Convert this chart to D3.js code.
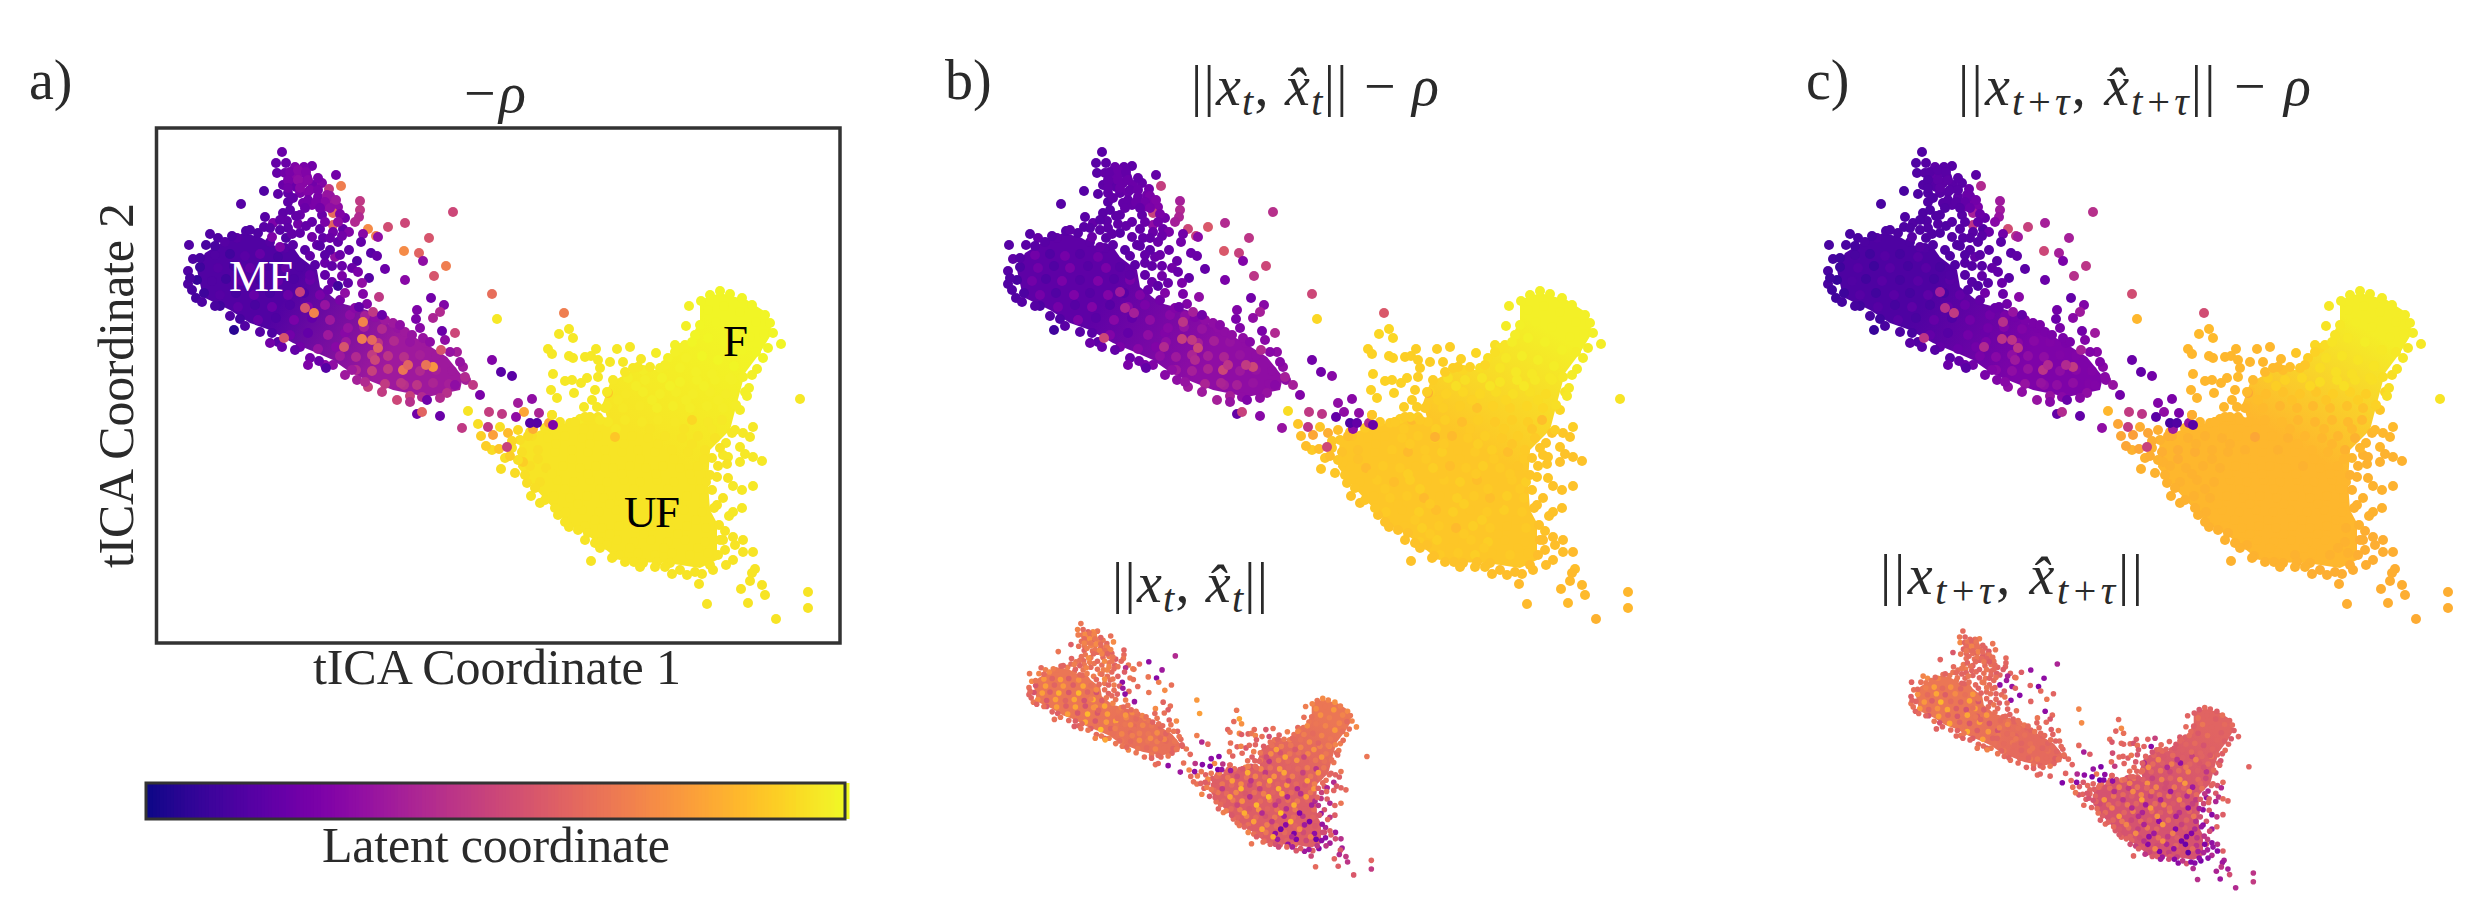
<!DOCTYPE html>
<html><head><meta charset="utf-8">
<style>html,body{margin:0;padding:0;background:#fff}svg{display:block}text{font-family:"Liberation Serif",serif;fill:#2a2a2a}</style>
<script src="https://cdn.jsdelivr.net/npm/d3@7/dist/d3.min.js"></script></head>
<body><svg id="c" width="2482" height="921"></svg>
<script>
// tuple: [tICA1, tICA2, latent a, latent b, latent c, latent small b, latent small c] (latent in percent)
const ufPoints=[
[468,248,97,94,90,64,60],[485,250,97,94,91,68,56],[502,248,98,95,92,66,62],[520,252,98,95,93,70,58],[537,250,98,96,94,62,48],[555,250,98,96,94,68,60],[572,250,98,96,94,70,64],
[450,262,96,91,86,60,36],[466,264,96,91,86,72,62],[483,262,97,92,87,55,58],[500,264,97,92,88,66,68],[516,262,97,93,88,64,30],[533,264,97,94,90,70,60],[550,262,97,94,91,62,56],[566,264,97,93,90,66,62],
[447,276,96,89,85,66,64],[463,278,96,90,85,44,60],[480,276,96,90,84,68,66],[497,278,97,87,85,62,50],[513,276,97,91,85,74,62],[530,278,97,91,86,60,70],[547,276,97,92,87,66,58],[563,278,97,92,87,64,44],
[415,292,95,90,85,62,60],[432,290,95,85,84,58,66],[448,292,96,89,84,70,58],[465,290,96,90,84,64,48],[482,292,96,86,85,76,68],[498,290,96,90,84,60,60],[515,292,96,89,84,62,72],[532,290,92,90,85,68,56],[548,292,96,90,85,44,62],[562,290,96,86,85,66,50],
[372,306,94,87,82,60,56],[388,308,95,88,83,66,62],[405,306,95,88,83,52,68],[422,308,95,89,83,64,46],[438,306,95,89,84,70,64],[455,308,95,90,84,60,60],[472,306,95,85,84,74,70],[488,308,95,89,83,62,52],[505,306,95,90,84,68,66],[522,308,95,89,84,58,60],[538,306,95,90,84,66,34],[555,308,95,89,83,62,64],
[362,322,94,87,82,58,60],[378,320,94,87,82,66,54],[395,322,95,88,82,62,66],[412,320,95,89,83,72,62],[428,322,95,85,83,50,58],[445,320,95,89,83,68,70],[462,322,95,90,84,64,48],[478,320,95,88,83,60,62],[495,322,95,89,84,76,66],[512,320,95,90,84,62,58],[528,322,95,86,84,56,40],[545,320,95,89,83,68,62],
[370,336,94,88,83,66,52],[386,338,94,85,83,62,64],[403,336,95,89,83,70,58],[420,338,95,89,83,56,66],[436,336,95,88,84,64,60],[453,338,95,90,84,68,34],[470,336,95,86,84,60,62],[486,338,95,89,84,80,70],[503,336,95,90,83,62,56],[520,338,95,89,84,42,60],[538,336,95,88,84,66,48],
[380,352,94,88,83,60,62],[397,350,95,89,83,66,54],[414,352,95,86,83,74,60],[430,350,95,90,84,58,68],[447,352,95,88,84,62,38],[464,350,95,89,84,68,62],[480,352,95,90,84,50,58],[497,350,95,86,84,64,66],[514,352,95,88,84,66,44],[532,350,95,89,84,60,60],[546,352,95,90,84,40,56],
[394,366,95,88,83,62,60],[410,368,95,89,83,68,66],[427,366,95,89,84,56,50],[444,368,95,85,84,74,62],[460,366,95,88,84,60,58],[477,368,95,90,84,64,30],[494,366,95,89,84,42,64],[510,368,95,86,84,66,56],[527,366,95,90,84,58,60],[544,368,95,89,84,62,42],
[406,382,95,89,83,60,56],[422,380,95,88,84,70,62],[439,382,95,90,84,62,48],[456,380,95,86,84,54,66],[473,382,95,90,84,66,60],[490,380,95,88,84,36,54],[507,382,95,89,84,62,28],[524,380,95,90,84,44,58],[542,382,95,89,84,60,40],
[425,396,95,88,84,64,60],[442,398,95,90,84,58,52],[459,396,95,89,84,68,30],[476,398,95,85,84,62,64],[493,396,95,90,84,28,46],[510,398,95,89,84,60,58],[527,396,95,88,84,34,24],[546,398,95,89,83,56,44],
[440,412,95,89,84,60,56],[457,410,95,90,84,66,28],[474,412,95,88,84,30,52],[491,410,95,89,84,62,40],[508,412,95,90,84,24,60],[525,410,95,88,84,52,20],[545,412,95,88,83,30,44],
[460,425,95,89,84,58,50],[478,423,95,89,84,34,26],[495,425,95,90,83,60,48],[512,423,95,88,84,26,56],[530,425,95,89,83,50,18],[548,423,95,88,83,22,36]];
const ufSpeckPoints=[
[476,256,97,94,90,78,70],[510,256,98,95,92,56,44],[544,256,98,96,94,74,68],[458,270,96,90,86,52,72],[492,270,97,91,87,80,40],[526,270,97,92,88,50,66],[558,270,97,93,90,76,54],
[424,299,95,89,84,82,70],[456,299,96,90,84,46,74],[490,299,95,89,84,80,52],[524,299,95,90,85,48,76],[552,299,96,88,85,78,60],
[396,314,95,88,83,78,42],[430,314,95,89,83,44,72],[464,314,95,89,84,84,66],[498,314,95,90,84,50,34],[532,314,95,88,84,80,70],
[378,329,94,87,82,46,74],[412,329,95,88,83,84,44],[446,329,95,89,84,48,78],[480,329,95,88,84,82,38],[514,329,95,89,84,40,72],[544,329,95,89,84,76,46],
[392,344,95,88,83,80,70],[428,344,95,90,84,42,40],[462,344,95,88,84,86,76],[496,344,95,89,84,38,62],[530,344,95,89,84,78,30],
[405,359,95,89,83,50,76],[440,359,95,90,84,84,42],[474,359,95,88,84,44,74],[508,359,95,89,84,82,36],[540,359,95,89,84,36,66],
[418,374,95,88,84,82,70],[450,374,95,89,84,40,38],[484,374,95,90,84,86,76],[518,374,95,88,84,26,48],
[435,390,95,89,84,78,72],[468,390,95,88,84,46,34],[502,390,95,90,84,84,68],[536,390,95,88,84,24,26],
[450,404,95,89,84,80,42],[484,404,95,89,84,22,72],[518,404,95,88,84,72,22],[470,418,95,88,84,82,70],[504,418,95,89,84,40,30],[538,418,95,88,83,68,62]];
const ufEdgePoints=[
[436,219,96,90,84,62,58],[425,227,96,90,84,60,62],[431,226,96,90,84,66,54],[457,219,96,90,84,56,60],[470,217,96,90,84,64,48],[496,223,97,92,88,68,60],[515,215,98,94,92,62,56],[481,229,96,91,85,60,62],[438,230,96,90,84,70,64],[440,238,96,90,84,58,56],[450,232,96,90,84,64,60],[463,232,96,90,84,52,28],[473,238,96,90,85,66,60],[438,247,96,90,85,60,54],[483,240,97,92,86,62,62],[500,238,97,93,88,68,58],[508,228,98,94,90,64,56],[520,218,98,95,92,66,60],
[409,199,96,92,85,80,72],[399,204,96,92,85,62,60],[413,208,96,92,85,74,64],[388,219,96,91,84,60,64],[392,224,96,91,84,66,56],[409,226,96,91,84,72,62],[413,228,96,91,84,58,60],[393,244,96,91,84,64,52],[405,251,96,91,84,60,62],[412,250,96,91,84,70,60],[421,253,96,91,84,56,58],[427,248,96,91,84,62,66],[391,260,96,91,84,66,62],[397,268,96,91,84,60,46],[414,263,96,91,84,62,60],[435,260,96,90,84,68,56],[432,270,96,90,84,58,62],[424,277,96,90,84,64,64],[437,277,96,90,84,60,60],[420,289,96,90,84,70,52],[430,287,95,90,84,56,60],[438,287,95,90,84,64,62],[410,293,95,89,84,58,66],[392,285,95,92,86,66,60],[448,263,88,82,80,60,54],[455,307,88,83,80,62,60],
[593,297,96,90,85,66,62],[583,303,96,88,84,60,54],[590,307,96,88,84,58,40],[572,303,96,88,84,62,60],[566,313,96,88,84,64,38],[580,317,96,88,84,40,56],[585,324,96,87,83,56,44],[593,327,96,87,83,60,62],[602,331,96,87,83,62,60],[563,325,96,88,83,58,30],[568,327,96,88,83,38,58],[580,332,96,87,83,60,38],[558,336,95,88,83,48,50],[567,334,95,88,83,62,60],[557,347,95,88,83,44,30],[568,348,95,88,83,58,56],[573,356,96,87,83,40,28],[582,360,96,87,83,60,44],[593,356,96,87,83,66,58],[563,368,95,87,83,54,54],[557,375,95,87,83,34,30],[582,378,96,87,83,58,60],[573,382,96,87,83,44,34],[569,386,96,87,83,60,52],
[565,401,95,87,82,38,46],[573,407,95,86,82,58,30],[583,410,95,86,82,34,42],[563,410,95,86,82,52,56],[565,420,95,86,82,30,36],[575,415,95,86,82,60,32],[593,422,95,85,82,42,58],[583,422,95,86,82,52,28],[573,430,95,86,82,36,40],[566,435,95,86,82,44,30],[595,439,95,86,82,36,38],[592,443,95,85,82,56,34],[590,451,95,85,82,40,44],[602,455,95,85,82,46,36],[581,459,95,85,82,60,38],[605,465,95,85,82,44,52],[588,473,95,85,82,58,34],[648,462,95,84,82,60,44],[648,478,95,84,82,46,46],[616,489,95,83,81,56,40],[547,474,95,85,82,62,42],[539,454,95,85,82,50,40],[553,440,95,86,82,28,24],[542,444,95,86,82,58,28],[527,445,95,86,82,34,54],[512,444,95,86,82,56,30],[510,433,95,87,83,62,48],[497,432,95,87,83,32,56],[483,433,95,87,83,60,34],[474,432,95,87,83,54,58],[454,426,95,87,83,62,52],[431,431,95,87,83,66,60],[447,415,95,87,83,60,56],[435,413,95,87,83,64,48],[428,403,95,87,83,58,60],
[409,397,95,87,83,66,60],[398,385,95,87,83,62,56],[380,373,95,87,83,68,62],[371,366,95,87,83,60,58],[367,353,94,88,83,64,64],[355,343,93,88,83,56,60],[341,339,94,88,83,70,62],[345,328,94,88,83,60,58],[332,320,93,89,83,66,54],[363,332,90,88,83,62,60],[640,269,96,95,95,66,60],
[352,318,94,88,83,60,60],[358,330,94,88,83,66,54],[365,345,94,88,83,58,62],[375,358,94,88,83,62,58],[385,370,95,88,83,68,60],[395,378,95,88,83,56,62],[405,392,95,87,83,64,56],[418,400,95,87,83,60,60],[425,410,95,87,83,70,52],[440,418,95,87,83,58,58],[452,428,95,87,83,64,44],[465,432,95,87,83,60,56],[480,437,95,87,83,50,34],[495,437,95,87,83,62,52],[505,437,95,87,83,36,28],[520,440,95,86,82,58,44],[535,442,95,86,82,34,26],[550,435,95,86,82,44,30],[558,425,95,86,82,30,38],[560,410,95,86,82,52,26],[559,395,95,87,83,32,44],[554,378,95,87,83,56,32],[552,360,95,88,83,42,52],[550,345,95,88,83,60,36],[552,328,95,88,84,58,58],[560,318,95,88,84,62,44],[575,300,96,90,85,60,60],[580,280,97,92,88,66,54],[585,262,98,95,92,62,60],[592,245,98,97,94,68,58],[603,228,99,97,96,70,60],[535,205,99,97,95,66,62],[525,215,98,95,93,64,58],[515,222,98,94,91,70,60],[505,235,97,92,88,62,56],[490,237,96,91,86,66,60],[478,237,96,90,85,60,62],[465,242,96,90,85,64,54],[453,250,96,90,85,58,60],[447,262,96,90,85,66,58],[445,278,96,89,84,60,62],[440,290,96,89,84,62,56],[425,287,95,89,84,68,60],[415,292,95,89,84,56,62],[400,292,95,89,84,64,54],[385,298,95,89,84,60,60],[370,302,94,88,83,66,62],[360,310,94,88,83,58,58]];
const fPoints=[
[529,176,98,97,96,68,60],[526,196,98,97,95,64,62],[541,171,99,98,97,70,58],[560,161,99,98,97,72,62],[550,165,99,98,97,66,56],[570,164,99,98,97,70,60],[582,168,99,98,97,74,58],[592,175,99,98,97,68,64],[605,185,99,98,97,72,60],[610,193,99,98,97,66,62],[613,203,99,98,97,70,58],[608,218,99,97,96,64,56],[621,214,99,97,96,72,60],[597,239,98,97,95,64,62],[583,247,98,96,94,70,60],[589,258,98,96,94,66,54],[587,266,98,96,94,62,60],[576,275,97,94,91,64,62],
[548,180,99,98,97,72,64],[564,176,99,98,97,66,60],[580,182,99,98,97,76,58],[596,192,99,98,97,70,62],[540,195,99,98,96,64,58],[556,192,99,98,97,74,66],[572,197,99,98,97,68,60],[590,207,99,98,97,70,58],[604,204,99,98,97,62,60],[532,212,99,97,95,72,62],[548,208,99,98,96,66,56],[565,212,99,98,97,70,64],[582,220,99,98,96,76,60],[596,222,99,97,96,64,58],[526,228,98,96,94,68,60],[542,226,99,97,95,62,62],[558,230,99,97,95,70,54],[574,236,99,97,95,66,60],[520,238,98,95,93,64,58],[536,242,98,96,94,72,62],[552,244,98,96,94,60,60],[570,248,98,96,94,68,56]];
const bridgePoints=[
[308,281,95,93,84,64,60],[318,294,94,88,80,70,62],[321,306,90,86,80,62,64],[333,305,78,80,78,68,58],[348,303,85,82,80,60,62],[340,297,94,88,82,66,56],[352,311,92,88,82,72,60],[326,316,90,86,80,64,66],[339,319,88,86,80,60,60],[350,326,90,86,82,68,54],[358,300,92,86,82,66,60],[368,306,93,86,82,62,62],[347,317,48,50,48,58,56],[328,297,45,44,46,30,28],[329,282,47,45,46,44,40],[342,284,45,44,44,28,30],[364,282,80,30,30,72,66],[373,299,82,30,34,70,64],[389,293,80,40,32,64,60],[392,285,95,88,82,62,60],[356,287,30,18,16,26,24],[358,273,35,30,26,30,32],[372,269,30,28,24,28,26],[379,283,38,30,24,44,30],[370,293,15,14,12,24,20],[377,293,15,18,14,32,26],[393,295,25,20,16,34,30]];
const lobePoints=[
[122,22,20,16,14,66,62],[116,33,19,16,14,70,66],[126,33,20,17,15,62,60],[152,36,22,17,15,66,68],[144,37,24,18,16,72,64],[135,37,26,20,17,60,62],[117,43,19,16,14,68,72],[125,43,22,18,15,66,60],[133,47,28,20,18,70,66],[140,43,28,20,17,62,64],[147,47,26,19,16,74,62],[176,45,22,18,16,64,66],[181,56,68,47,40,72,66],[123,55,20,17,14,64,60],[132,53,24,18,16,70,68],[136,57,20,17,15,66,62],[143,53,28,20,17,60,64],[153,55,22,20,16,68,62],[162,53,26,19,16,66,60],[169,59,45,22,20,62,58],[104,61,14,15,12,58,56],[118,64,17,16,13,64,66],[128,63,18,18,14,66,62],[140,63,24,18,16,70,64],[148,62,26,20,16,68,60],[158,67,24,20,17,62,58],[167,65,32,22,20,66,62],[128,72,17,16,14,60,64],[133,68,18,18,14,68,62],[81,74,15,15,12,66,60],[143,73,22,18,15,64,64],[152,75,24,19,16,62,60],[163,77,30,24,22,58,56],[173,72,33,24,22,66,62],[178,77,30,26,24,60,64],[200,71,45,36,34,60,62],[200,80,45,40,34,62,60],[199,87,40,38,32,66,60],[293,82,50,42,42,40,38],[123,83,17,16,13,64,66],[140,85,20,17,14,66,60],[162,85,20,18,16,62,62],[173,83,62,48,36,68,64],[185,88,22,22,18,58,60],[195,92,40,36,28,62,58],[105,87,15,16,13,60,62],[113,93,25,18,14,66,64],[127,91,18,17,14,62,68],[138,94,22,18,15,68,60],[173,95,60,30,44,66,62],[245,93,50,40,36,30,32],[228,97,52,56,48,62,58],[208,99,72,50,52,66,60],[104,97,16,16,13,62,66],[128,98,17,17,14,66,60],[160,99,18,18,15,64,64],[173,102,22,20,16,70,62],[183,99,18,20,14,60,58],[189,102,26,24,20,66,60],[203,104,28,22,22,42,38],[216,106,68,48,42,70,62],[218,107,30,28,34,66,66],[269,108,55,44,36,34,30],[140,103,18,16,14,62,60],[112,107,25,20,16,60,66],[126,108,14,16,13,66,62],[152,107,22,18,15,64,60],[163,108,18,18,15,68,66],[178,112,18,20,15,62,62],[201,112,18,22,16,58,34],[244,121,72,56,50,66,60],[259,123,60,48,36,28,26],[211,123,16,20,16,66,32],[217,126,18,20,17,64,60],[175,127,30,20,18,62,64],[197,131,15,20,16,30,58],[263,131,30,26,24,68,62],[286,136,68,50,44,64,60],[192,138,20,22,18,60,62],[198,142,24,20,18,34,66],[225,139,20,18,16,62,28],[165,133,20,18,15,66,62],[155,135,16,17,14,62,60],[157,115,18,17,14,70,66],[170,120,16,17,15,64,62],[189,120,18,20,16,60,30],[133,115,16,17,14,68,64],[120,117,25,18,15,62,60],
[130,42,24,18,15,72,66],[138,40,28,20,16,64,60],[146,42,26,18,16,70,66],[128,50,24,18,14,62,62],[138,50,30,20,17,74,70],[148,50,28,20,17,66,64],[158,48,24,18,16,60,60],[128,58,22,18,14,70,66],[140,58,28,20,17,66,62],[150,60,26,19,16,72,70],[158,60,24,20,16,62,62],[170,66,32,24,20,68,66],[165,72,28,22,18,64,60],[176,70,34,26,22,70,64],[148,70,22,18,15,66,66],[156,72,24,20,16,72,62],[170,78,30,24,20,60,58],[180,84,26,24,20,66,62],[160,78,22,18,15,70,66],[145,78,20,18,14,62,62],[130,80,17,16,13,66,60],[136,86,18,17,14,72,64],[120,90,18,16,13,64,66],[110,98,16,16,13,68,62],[120,100,16,17,14,60,60],[132,104,18,17,14,70,66],[146,96,18,18,14,66,62],[152,92,18,18,15,62,60],[165,92,24,20,16,72,66],[178,92,30,22,18,66,62],[182,106,22,20,16,62,64],[170,108,20,18,15,70,60],[160,116,16,17,14,64,66],[145,120,16,16,14,68,62],[150,126,18,17,14,62,60],[165,125,16,18,14,72,66],[180,125,20,20,16,66,62],[172,136,18,18,15,60,64],[182,136,20,20,16,68,60],[150,145,18,17,14,72,66],[165,145,18,18,15,64,62],[172,152,20,20,15,60,60],[180,170,24,22,18,70,64],[168,160,20,20,15,66,62]];
const scatterPoints=[
[274,146,55,44,42,72,66],[209,148,15,18,16,62,30],[245,150,28,24,20,66,60],[182,146,24,22,18,64,62],[188,153,18,20,16,60,58],[202,153,30,24,20,30,62],[178,156,10,17,14,62,66],[203,164,26,24,20,68,60],[185,163,30,26,22,66,62],[219,167,45,30,28,32,64],[271,168,22,22,18,60,30],[284,175,26,28,26,64,62],[257,180,25,26,22,72,66],[207,174,26,26,22,66,60],[199,177,18,22,20,62,62],[280,182,40,36,34,58,56],[273,188,38,30,28,64,62],[213,182,45,36,32,62,60],[222,185,20,22,18,66,64],[256,189,24,24,20,62,60],[260,198,28,26,24,66,62],[282,201,20,24,22,60,58],[295,203,50,40,34,72,66],[332,164,63,50,52,76,70],[404,183,68,56,52,66,62],[337,189,96,92,84,78,72],[332,230,26,22,20,68,62],[341,242,16,22,18,40,36],[352,246,16,28,22,62,58],[74,200,5,10,8,64,60],[110,213,22,20,16,58,62],[122,217,20,20,16,64,60],[124,208,55,50,44,62,66],[148,235,25,24,20,70,66],[159,231,20,22,18,66,62],[166,238,15,18,16,80,70],[320,265,24,26,22,62,60],[313,255,45,36,32,66,62],[305,247,40,36,28,60,64],[257,284,22,18,18,64,62],[280,286,20,28,18,30,60],[262,282,60,48,40,62,60],[302,298,45,32,30,34,26]];
const mfCorePoints=[
[29,115,14,15,12,66,60],[46,115,12,16,12,70,64],[50,104,14,15,12,62,70],[33,129,13,17,11,72,64],[28,141,14,15,12,64,58],[28,154,13,14,12,60,66],[58,108,13,18,12,68,72],[65,112,15,16,13,72,66],[77,108,15,17,14,66,70],[86,101,14,16,13,60,64],[98,103,14,16,13,68,66],
[55,125,14,22,12,76,68],[70,124,10,14,10,60,78],[85,126,16,23,15,78,62],[100,124,19,15,11,58,74],[118,127,12,22,16,74,60],
[40,137,9,13,9,56,74],[58,138,15,22,15,78,62],[74,136,11,14,9,60,80],[90,138,18,24,16,76,58],[108,136,13,15,11,58,72],[126,138,19,24,16,80,64],[140,137,14,16,12,64,76],
[37,150,8,12,8,54,60],[52,151,14,22,14,78,76],[66,149,10,14,10,58,58],[82,151,18,24,16,82,84],[100,150,11,15,11,56,62],[118,151,19,25,16,84,60],[134,149,13,15,11,60,80],[150,150,20,24,16,54,56],
[44,163,9,13,9,72,76],[60,165,15,23,15,56,60],[76,163,11,14,10,78,74],[94,165,19,25,16,60,80],[110,163,12,15,11,80,58],[128,165,20,26,17,54,54],[144,163,14,16,12,82,78],[160,165,24,26,18,58,58],
[60,176,10,13,10,56,54],[78,177,17,23,15,78,78],[95,175,12,15,11,58,60],[112,177,20,26,17,80,56],[130,175,14,15,12,54,80],[148,177,26,28,19,76,58],[165,175,32,24,20,80,76],
[80,189,11,14,10,58,54],[98,190,19,25,16,78,80],[116,188,13,16,12,56,60],[134,190,24,28,19,84,56],[152,188,18,18,14,56,78],[170,190,34,30,22,78,56],
[112,203,13,16,12,58,60],[130,205,22,26,18,80,82],[148,203,18,18,15,56,58],[168,205,34,30,22,76,76],[185,203,28,26,20,78,54],
[140,217,22,24,18,58,58],[158,219,32,28,20,86,78],[176,217,28,26,22,60,60],
[30,148,12,14,10,62,60],[32,160,12,14,10,60,64],[36,168,11,14,10,66,60],[42,172,13,15,11,60,62],[55,176,12,15,11,64,60],[70,186,14,15,12,60,66],[85,196,14,16,12,66,60],[100,202,15,16,13,62,62],[118,212,16,17,14,60,66],[135,220,18,18,15,66,60],[150,228,22,20,16,62,62],[40,128,12,15,10,66,62],[55,116,12,16,11,62,66],[72,106,13,16,12,68,62],[90,100,14,17,13,60,60],[110,112,15,17,13,66,66],[125,118,15,17,14,62,60]];
const tailPoints=[
[190,185,30,28,22,66,62],[205,186,36,30,24,62,66],[215,187,30,26,22,72,60],[188,198,32,28,22,64,68],[204,197,36,32,26,70,62],[222,199,40,32,26,62,64],[238,198,32,30,24,68,60],
[186,212,34,30,24,66,66],[218,213,44,36,28,62,60],[234,211,40,36,28,70,64],[250,212,32,32,26,66,62],[266,213,34,30,24,60,60],
[180,226,34,30,24,64,64],[196,227,40,34,28,70,62],[212,225,46,38,30,62,66],[228,226,44,36,30,68,60],[244,227,42,38,30,66,64],[260,225,36,32,26,72,62],[276,226,34,30,26,60,60],
[196,240,40,34,28,66,66],[212,241,48,36,30,62,62],[228,239,46,38,32,72,60],[244,255,42,36,30,64,66],[260,241,40,34,30,68,62],[276,240,36,32,28,62,64],[292,241,34,30,26,66,60],
[225,254,46,38,32,66,62],[241,253,44,38,32,62,60],[257,255,44,36,30,70,66],[273,253,38,32,30,64,62],[289,254,36,30,26,60,58],[250,266,48,36,32,66,64],[262,267,40,30,28,62,60],
[233,193,34,30,24,70,66],[263,208,32,30,24,64,62],[285,210,30,28,26,66,60],[297,222,36,30,28,60,62],[303,237,34,30,28,62,60],[295,255,30,28,26,66,64],[287,263,42,32,30,60,60],[267,270,22,26,20,62,62],[237,270,50,36,32,64,60],[208,257,48,34,30,70,64],[197,250,36,30,26,66,62],[192,240,34,30,26,62,60],[173,235,30,26,22,68,66],
[300,232,32,28,26,66,62],[306,250,36,30,28,60,60],[280,268,40,30,28,66,66],[250,272,42,32,28,60,60],[222,262,46,34,30,66,62],[205,252,40,32,28,62,60],[185,245,34,28,24,66,66],[165,235,28,24,20,60,60],[195,178,28,26,20,70,62],[225,190,34,30,24,64,64],[245,202,34,30,24,66,60],[270,212,30,28,24,62,62],[290,222,32,28,26,66,60],[252,205,32,30,24,60,66],[240,195,30,28,24,64,62],
[203,192,70,44,42,76,70],[202,209,68,48,44,66,62],[218,218,60,50,44,64,66],[212,210,62,46,44,72,64],[184,217,55,40,40,68,60],[243,240,66,50,44,66,66],[273,237,75,50,46,70,62],[266,235,65,46,40,62,60],[281,220,55,40,36,66,64],[248,235,60,44,40,72,66],[215,230,50,40,34,68,62],[145,178,55,38,42,74,66],[154,183,70,36,46,60,60],[140,162,48,34,36,68,64]];
// dense overplotted regions, as tICA coordinates, with their latent level per panel
const ufHull=[[360,308],[400,293],[418,294],[430,283],[447,288],[443,273],[450,253],[473,240],[500,240],[513,223],[530,210],[585,243],[577,273],[570,300],[550,320],[548,353],[550,380],[557,393],[557,430],[540,438],[507,433],[473,432],[450,423],[430,407],[407,393],[370,353],[358,337]];
const fHull=[[513,223],[530,210],[540,190],[540,170],[560,163],[587,170],[607,183],[612,203],[600,223],[585,243],[570,260],[530,250]];
const mfCoreHull=[[37,140],[45,123],[63,112],[83,103],[100,107],[117,117],[133,117],[140,127],[157,140],[160,157],[180,173],[180,222],[157,223],[133,213],[110,200],[90,193],[70,180],[43,167]];
const mfTailHull=[[180,173],[207,180],[233,197],[260,210],[287,227],[303,247],[300,260],[267,267],[233,260],[200,247],[187,240],[173,230],[157,223]];
const ufHullLatent=[95,88,84,58,54], fHullLatent=[99,98,97,66,60], mfCoreHullLatent=[14,17,13,66,66], mfTailHullLatent=[34,30,25,64,62];
const colorbarStops=d3.range(0,1.0001,0.005);
// layout
const panels=[
 {k:0,x:[156.5,840],y:[128,643],r:5},
 {k:1,x:[976.5,1660],y:[128,643],r:5},
 {k:2,x:[1796.5,2480],y:[128,643],r:5},
 {k:3,x:[1011.6,1389],y:[610.7,887.8],r:2.8},
 {k:4,x:[1893.6,2271],y:[617.8,901],r:2.8}];
const svg=d3.select("#c");
const defs=svg.append("defs");
const color=d3.scaleSequential(d3.interpolatePlasma).domain([0,100]);
const pointGroups=[ufPoints,ufSpeckPoints,ufEdgePoints,fPoints,bridgePoints];
const pointGroups2=[mfCorePoints,tailPoints,lobePoints,scatterPoints];
panels.forEach(p=>{
  const x=d3.scaleLinear().domain([-3.5,680]).range(p.x), y=d3.scaleLinear().domain([-2,513]).range(p.y);
  const g=svg.append("g");
  const line=d3.line().x(d=>x(d[0])).y(d=>y(d[1])).curve(d3.curveLinearClosed);
  const grad=(id,a,b,c0,c1)=>{const lg=defs.append("linearGradient").attr("id",id).attr("gradientUnits","userSpaceOnUse")
      .attr("x1",x(a[0])).attr("y1",y(a[1])).attr("x2",x(b[0])).attr("y2",y(b[1]));
    lg.append("stop").attr("offset",0).attr("stop-color",color(c0));lg.append("stop").attr("offset",1).attr("stop-color",color(c1));};
  grad("gu"+p.k,[575,205],[505,320],fHullLatent[p.k],ufHullLatent[p.k]);
  grad("gm"+p.k,[130,160],[230,225],mfCoreHullLatent[p.k],mfTailHullLatent[p.k]);
  const hull=(h,id)=>g.append("path").attr("d",line(h)).attr("fill",`url(#${id}${p.k})`);
  const dots=a=>g.append("g").selectAll("circle").data(a).join("circle").attr("cx",d=>x(d[0])).attr("cy",d=>y(d[1])).attr("r",p.r).attr("fill",d=>color(d[2+p.k]));
  hull(ufHull,"gu");hull(fHull,"gu");
  pointGroups.forEach(dots);
  hull(mfCoreHull,"gm");hull(mfTailHull,"gm");
  pointGroups2.forEach(dots);
});
svg.append("rect").attr("x",156.5).attr("y",128).attr("width",683.5).attr("height",515).attr("fill","none").attr("stroke","#333").attr("stroke-width",3.5);
const cbx=d3.scaleLinear().domain([0,1]).range([146,845]);
svg.append("g").selectAll("rect").data(colorbarStops).join("rect").attr("x",d=>cbx(d)).attr("y",783).attr("width",4.5).attr("height",36).attr("fill",d=>d3.interpolatePlasma(d));
svg.append("rect").attr("x",146).attr("y",783).attr("width",699).attr("height",36).attr("fill","none").attr("stroke","#333").attr("stroke-width",3);
const T=(s,x,y,size,w,fill)=>{const t=svg.append("text").attr("x",x).attr("y",y).attr("font-size",size).text(s);if(w)t.attr("textLength",w).attr("lengthAdjust","spacing");if(fill)t.style("fill",fill);return t;};
T("a)",29,99,56);T("b)",945,99,56);T("c)",1806,99,56);
T("tICA Coordinate 1",313,684,50,368);T("Latent coordinate",322,862,50,348);
T("tICA Coordinate 2",0,0,50,365).attr("transform","translate(133,568) rotate(-90)");
T("MF",229,291,45,64,"#fff");T("F",723,356,45,null,"#000");T("UF",624,527,45,56,"#000");
const M=(segs,x,y,size,w)=>{const t=svg.append("text").attr("x",x).attr("y",y).attr("font-size",size).attr("textLength",w).attr("lengthAdjust","spacing");
  let sub=false;
  segs.forEach(s=>{const isSub=s[1]==="s";const e=t.append("tspan").text(s[0]);if(s[1])e.attr("font-style","italic");
    if(isSub&&!sub)e.attr("dy",size*0.18).attr("font-size",size*0.72);else if(isSub)e.attr("font-size",size*0.72);else if(!isSub&&sub)e.attr("dy",-size*0.18);sub=isSub;});};
const segT=[["||"],["x","i"],["t","s"],[", "],["x̂","i"],["t","s"],["||"]];
const segTau=[["||"],["x","i"],["t+τ","s"],[", "],["x̂","i"],["t+τ","s"],["||"]];
M([["−"],["ρ","i"]],464,112,56,62);
M([...segT,[" − "],["ρ","i"]],1191,104.5,56,248);
M([...segTau,[" − "],["ρ","i"]],1958,104.5,56,353);
M(segT,1112,602,56,156);
M(segTau,1880,594,56,263);
</script></body></html>
